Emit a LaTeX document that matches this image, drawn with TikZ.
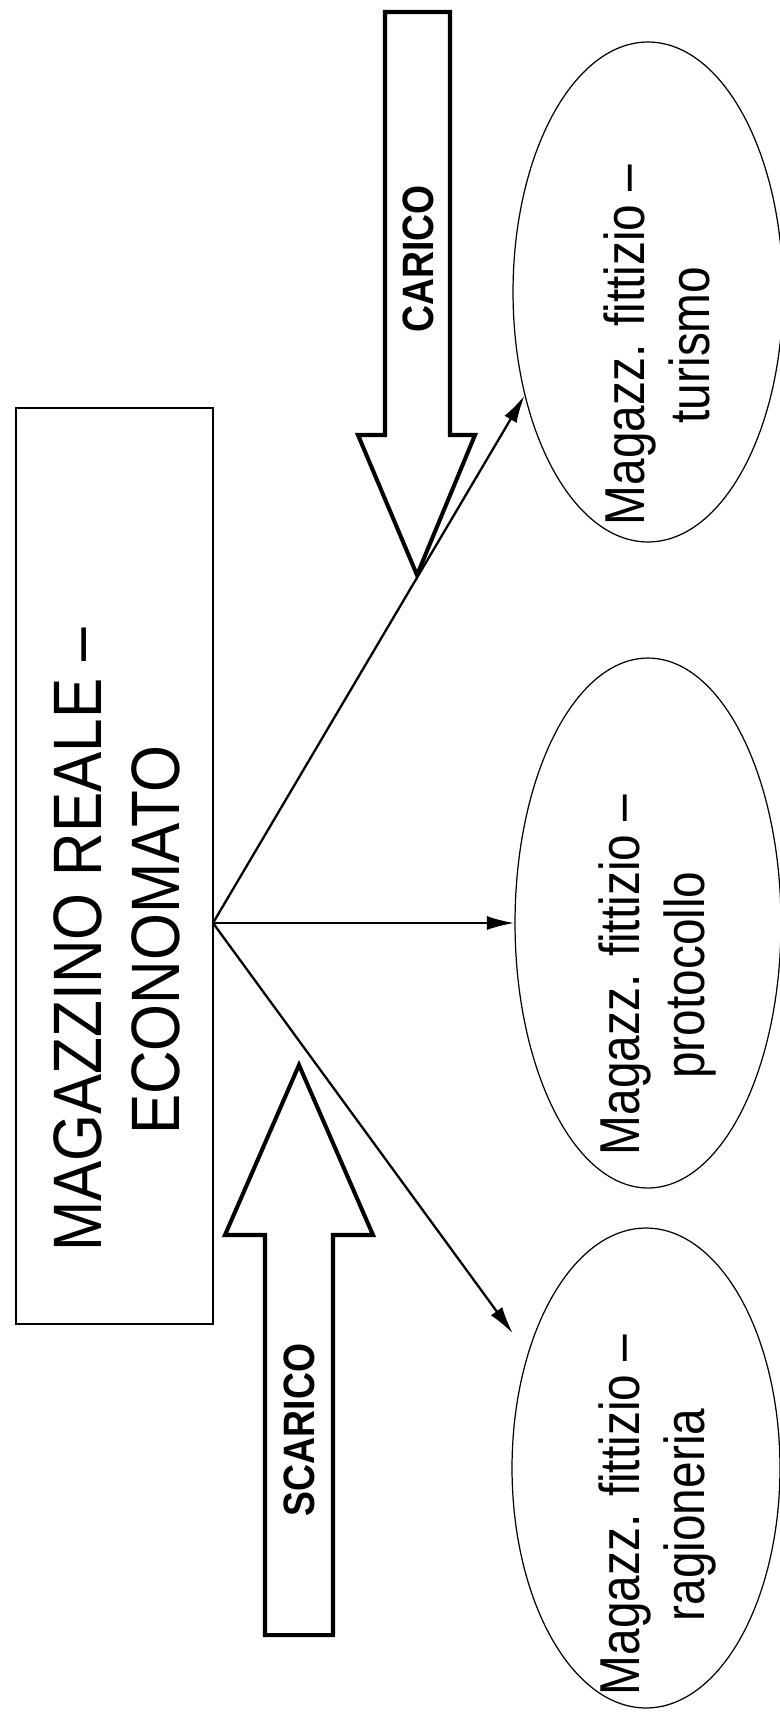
\documentclass[tikz,border=0pt]{standalone}
\usepackage{fontspec}
\setmainfont{Liberation Sans}
\newfontfamily\narrowsans{Liberation Sans}[FakeStretch=0.85]
\newfontfamily\realesans{Liberation Sans}[FakeStretch=0.88]
\usetikzlibrary{shapes.geometric,arrows.meta}

\begin{document}
\begin{tikzpicture}[x=0.02cm,y=0.02cm]
\tikzset{
  fittizio/.style={draw, ellipse, line width=0.7pt, inner sep=0pt},
  fitlabel/.style={rotate=90, align=center, font=\narrowsans\fontsize{32}{37}\selectfont},
  flow/.style={line width=1.3pt, -{Latex[length=5.5mm,width=2.8mm]}},
  blockarrow/.style={line width=2.3pt, line join=miter},
  flowlabel/.style={rotate=90, font=\narrowsans\bfseries\fontsize{25}{30}\selectfont}
}
\useasboundingbox (0,0) rectangle (779,-1713);

\draw[line width=0.85pt] (16,-408) rectangle (213,-1324);
\node[rotate=90, align=center, font=\realesans\fontsize{39}{44}\selectfont] (reale) at (117,-940) {MAGAZZINO REALE –\\ECONOMATO};
\coordinate (hub) at (213,-923);

\node[fittizio, minimum width=5.4cm, minimum height=10cm] (turismo) at (648,-292) {};
\node[fittizio, minimum width=5.32cm, minimum height=10.6cm] (protocollo) at (648,-923) {};
\node[fittizio, minimum width=5.36cm, minimum height=9.6cm] (ragioneria) at (646,-1468) {};

\node[fitlabel] (turismolab) at (657,-345) {Magazz. fittizio –\\turismo};
\node[fitlabel] (protocollolab) at (657,-975) {Magazz. fittizio –\\protocollo};
\node[fitlabel] (ragionerialab) at (657,-1515) {Magazz. fittizio –\\ragioneria};

\draw[blockarrow] (385,-12) -- (450,-12) -- (450,-435) -- (475,-435) -- (417,-575) -- (358,-435) -- (385,-435) -- cycle;
\node[flowlabel] (carico) at (418,-259) {CARICO};
\draw[blockarrow] (265,-1635) -- (333,-1635) -- (333,-1235) -- (373,-1235) -- (299,-1065) -- (225,-1235) -- (265,-1235) -- cycle;
\node[flowlabel] (scarico) at (299,-1430) {SCARICO};

\draw[flow] (hub) -- (turismo.220);
\draw[flow] (hub) -- (protocollo.west);
\draw[flow, shorten >=0.5cm] (hub) -- (ragioneria.136);
\end{tikzpicture}
\end{document}
